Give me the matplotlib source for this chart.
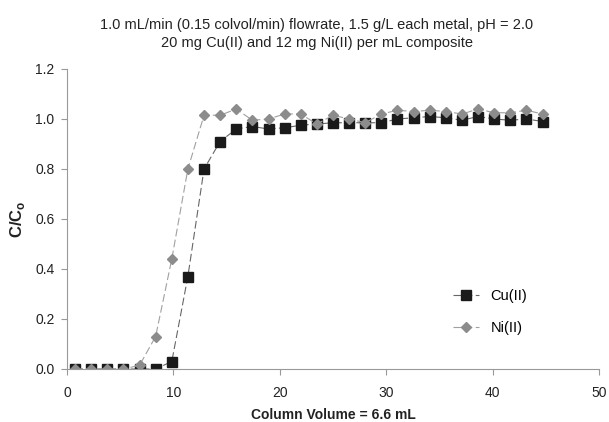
import numpy as np
import matplotlib.pyplot as plt

plt.rcParams['font.family'] = ['Liberation Sans', 'DejaVu Sans']

# column volumes: 10 mL fractions, mid-point, column volume 6.6 mL
cv = [0.76, 2.27, 3.79, 5.30, 6.82, 8.33, 9.85, 11.36, 12.88, 14.39,
      15.91, 17.42, 18.94, 20.45, 21.97, 23.48, 25.00, 26.52, 28.03, 29.55,
      31.06, 32.58, 34.09, 35.61, 37.12, 38.64, 40.15, 41.67, 43.18, 44.70]
cu = [0.0, 0.0, 0.0, 0.0, 0.0, 0.0, 0.03, 0.37, 0.80, 0.91,
      0.96, 0.97, 0.96, 0.965, 0.975, 0.98, 0.985, 0.985, 0.985, 0.985,
      1.00, 1.005, 1.01, 1.005, 0.995, 1.01, 1.00, 0.995, 1.00, 0.99]
ni = [0.0, 0.0, 0.0, 0.0, 0.015, 0.13, 0.44, 0.80, 1.015, 1.015,
      1.04, 0.995, 1.0, 1.02, 1.02, 0.98, 1.015, 1.0, 0.985, 1.02,
      1.035, 1.03, 1.035, 1.03, 1.02, 1.04, 1.025, 1.025, 1.035, 1.02]

title_lines = ['1.0 mL/min (0.15 colvol/min) flowrate, 1.5 g/L each metal, pH = 2.0',
               '20 mg Cu(II) and 12 mg Ni(II) per mL composite']

fig = plt.figure(figsize=(6.09, 4.22), dpi=100)
ax = fig.add_axes([67 / 609, 53 / 422, 532 / 609, 300 / 422])

ax.plot(cv, cu, color='#666666', lw=0.8, ls=(0, (7, 3)),
        marker='s', ms=6.5, mfc='#1a1a1a', mec='#1a1a1a', label='Cu(II)')
ax.plot(cv, ni, color='#a0a0a0', lw=0.8, ls=(0, (7, 3)),
        marker='D', ms=5, mfc='#8c8c8c', mec='#8c8c8c', label='Ni(II)')

ax.set_xlim(0, 50)
ax.set_ylim(0, 1.2)
ax.set_xticks(np.arange(0, 51, 10))
ax.set_yticks(np.arange(0, 1.21, 0.2))
ax.yaxis.set_major_formatter(plt.FormatStrFormatter('%.1f'))
for s in ['top', 'right']:
    ax.spines[s].set_visible(False)
for s in ['left', 'bottom']:
    ax.spines[s].set_color('#999999')
    ax.spines[s].set_linewidth(0.8)
ax.tick_params(colors='#999999', labelcolor='#222222', labelsize=10,
               length=4, width=0.8)
ax.tick_params(axis='x', pad=8)
ax.tick_params(axis='y', pad=5)

ax.set_xlabel('Column Volume = 6.6 mL', fontsize=10, fontweight='bold',
              color='#222222', labelpad=6)
ax.set_ylabel('C/C$_\\mathregular{o}$', fontsize=12, fontweight='bold',
              color='#222222', labelpad=6)

for i, line in enumerate(title_lines):
    fig.text(317 / 609, 1 - (25 + 18 * i) / 422, line,
             ha='center', va='center', fontsize=10.5, color='#222222')

ax.legend(loc='center left', bbox_to_anchor=(0.7, 0.19), frameon=False,
          fontsize=10.5, handlelength=1.8, labelspacing=1.2)

fig.savefig('out.png', dpi=100)
